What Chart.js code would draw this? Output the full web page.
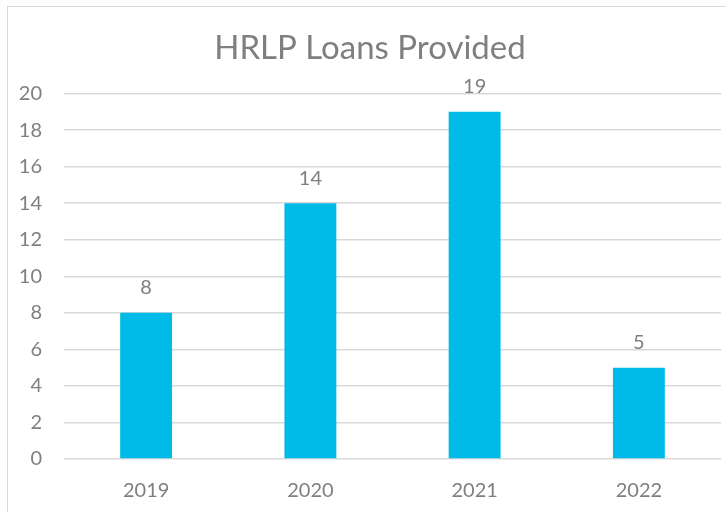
<!DOCTYPE html>
<html>
<head>
<meta charset="utf-8">
<script src="https://cdn.jsdelivr.net/npm/chart.js@4"></script>
<style>
  html, body { margin: 0; padding: 0; background: #fff; }
  #wrap { width: 726px; height: 512px; }
</style>
</head>
<body>
<div id="wrap"><canvas id="loansChart" width="726" height="512"></canvas></div>
<script>
const years = ['2019', '2020', '2021', '2022'];
const loans = [8, 14, 19, 5];
const yTicks = [0, 2, 4, 6, 8, 10, 12, 14, 16, 18, 20];

const textGray = '#7f7f7f';
const font = 'Lato, "Open Sans", sans-serif';

// thin frame like the Excel chart area, plus value labels over each bar
const framePlugin = {
  id: 'frame',
  beforeDraw(chart) {
    const ctx = chart.ctx;
    ctx.save();
    ctx.strokeStyle = '#d9d9d9';
    ctx.lineWidth = 1;
    ctx.strokeRect(7.5, 6.5, chart.width + 10, chart.height + 10);
    ctx.restore();
  }
};

const valueLabels = {
  id: 'valueLabels',
  afterDatasetsDraw(chart) {
    const ctx = chart.ctx;
    ctx.save();
    ctx.font = '20px ' + font;
    ctx.fillStyle = textGray;
    ctx.textAlign = 'center';
    ctx.textBaseline = 'middle';
    chart.getDatasetMeta(0).data.forEach((bar, i) => {
      ctx.fillText(loans[i], bar.x, bar.y - 25);
    });
    ctx.restore();
  }
};

new Chart(document.getElementById('loansChart'), {
  type: 'bar',
  data: {
    labels: years,
    datasets: [{
      data: loans,
      backgroundColor: '#00BBE7',
      categoryPercentage: 1,
      barPercentage: 0.316
    }]
  },
  options: {
    responsive: false,
    animation: false,
    layout: { padding: { left: 19, right: 5, top: 0, bottom: 0 } },
    plugins: {
      legend: { display: false },
      tooltip: { enabled: false },
      title: {
        display: true,
        text: 'HRLP Loans Provided',
        color: textGray,
        font: { family: font, size: 33, weight: 'normal' },
        padding: { top: 29, bottom: 25 }
      }
    },
    scales: {
      x: {
        grid: { display: false, drawTicks: false },
        border: { display: false },
        ticks: { color: textGray, font: { family: font, size: 20 }, padding: 20 },
        afterFit(scale) { scale.height = 53; }
      },
      y: {
        min: 0,
        max: 20,
        afterBuildTicks(scale) { scale.ticks = yTicks.map(v => ({ value: v })); },
        grid: { color: '#d9d9d9', lineWidth: 1.5, drawTicks: false },
        border: { display: false },
        ticks: { color: textGray, font: { family: font, size: 20 }, padding: 22 },
        afterFit(scale) { scale.width = 45; }
      }
    }
  },
  plugins: [framePlugin, valueLabels]
});
</script>
</body>
</html>
